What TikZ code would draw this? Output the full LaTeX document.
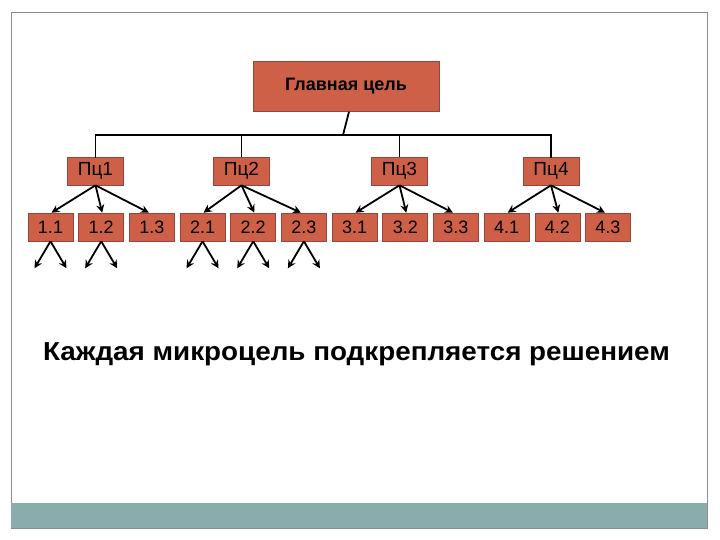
\documentclass[tikz,border=0pt]{standalone}
\usepackage{fontspec}
\setmainfont{Liberation Sans}
\usetikzlibrary{arrows.meta}
\definecolor{boxfill}{RGB}{207,96,72}
\definecolor{boxedge}{RGB}{150,70,60}
\definecolor{band}{RGB}{139,172,172}
\definecolor{framegray}{RGB}{140,140,140}
\tikzset{
  goal/.style={draw=boxedge, line width=0.6pt, fill=boxfill, minimum width=186pt, minimum height=50pt, inner sep=0pt, font=\fontsize{18}{20}\selectfont\bfseries},
  sub/.style={draw=boxedge, line width=0.6pt, fill=boxfill, minimum width=56pt, minimum height=28pt, inner sep=0pt, font=\fontsize{19}{21}\selectfont},
  leaf/.style={draw=boxedge, line width=0.6pt, fill=boxfill, minimum width=45pt, minimum height=28pt, inner sep=0pt, font=\fontsize{18}{20}\selectfont},
  conn/.style={line width=1.8pt, black},
  arr/.style={line width=1.8pt, black, -{Stealth[length=8pt,width=8pt]}}
}
\begin{document}
\begin{tikzpicture}[x=1pt,y=-1pt]
\useasboundingbox (0,0) rectangle (720,540);
% frame
\draw[framegray, line width=0.6pt] (11,12) rectangle (707,528);
\fill[band] (11,503) rectangle (707,528);
\draw[framegray, line width=0.6pt] (11,528) -- (707,528);
% main goal
\node[goal] (main) at (346,86.5) {Главная цель};
% sub goals
\node[sub] (p1) at (95.5,171) {Пц1};
\node[sub] (p2) at (241.5,171) {Пц2};
\node[sub] (p3) at (399.5,171) {Пц3};
\node[sub] (p4) at (551,171) {Пц4};
% connectors
\coordinate (hj) at (343,135);
\coordinate (h1) at (95.5,135);
\coordinate (h4) at (551,135);
\draw[conn] ([xshift=3pt]main.south) -- (hj);
\draw[conn, line cap=rect] (p1.north) -- (h1) -- (h4) -- (p4.north);
\draw[conn] (p2.north) -- (p2.north |- hj);
\draw[conn] (p3.north) -- (p3.north |- hj);
% leaves
\foreach \n/\t [count=\i from 0] in {a/1.1,b/1.2,c/1.3,d/2.1,e/2.2,f/2.3,g/3.1,h/3.2,k/3.3,l/4.1,m/4.2,n/4.3}{
  \node[leaf] (\n) at ({50.5+50.68*\i},227) {\t};
}
\foreach \p/\x/\y/\z in {p1/a/b/c,p2/d/e/f,p3/g/h/k,p4/l/m/n}{
  \draw[arr] (\p.south) -- ([xshift=1pt]\x.north);
  \draw[arr] (\p.south) -- ([xshift=1pt]\y.north);
  \draw[arr] (\p.south) -- ([xshift=-3pt]\z.north);
}
% arrows below leaves
\foreach \n in {a,b,d,e,f}{
  \coordinate (\n L) at ([xshift=-16pt,yshift=-27pt]\n.south);
  \coordinate (\n R) at ([xshift=16pt,yshift=-27pt]\n.south);
  \draw[arr] (\n.south) -- (\n L);
  \draw[arr] (\n.south) -- (\n R);
}
% caption
\node[font=\fontsize{26}{30}\selectfont\bfseries, anchor=base] (cap) at (356.5,360) {\scalebox{1.07}[1]{Каждая микроцель подкрепляется решением}};
\end{tikzpicture}
\end{document}
